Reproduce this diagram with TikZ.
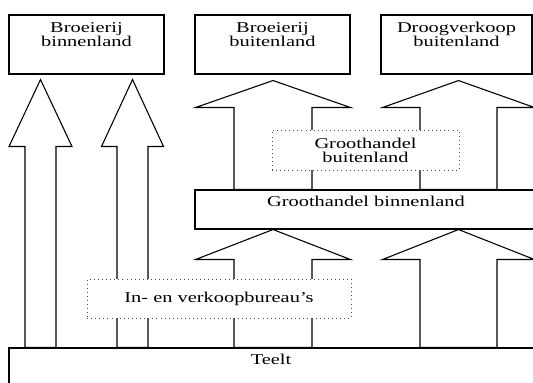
\documentclass[tikz,border=0pt]{standalone}
\usepackage{fontspec}
\setmainfont{Liberation Serif}[FakeStretch=1.36]
\usetikzlibrary{calc}
\def\pxu{0.6pt}
\newcommand{\blockarrow}[7]{%
  \filldraw[arrowbox] let \p1=(#3,0 |- #1.north), \p2=($(#3,0 |- #2.south)+(0,#7)$) in
    ({\x1-#4*\pxu},\y1) -- ({\x1-#4*\pxu},{\y2-#6*\pxu}) -- ({\x1-#5*\pxu},{\y2-#6*\pxu}) -- (\x2,\y2)
    -- ({\x1+#5*\pxu},{\y2-#6*\pxu}) -- ({\x1+#4*\pxu},{\y2-#6*\pxu}) -- ({\x1+#4*\pxu},\y1) -- cycle;}
\begin{document}
\begin{tikzpicture}[x=\pxu,y=-\pxu,line width=0.65pt,
    box/.style={draw,fill=white,inner sep=0pt},
    dotbox/.style={draw=black!70,dotted,line width=0.45pt,fill=white,inner sep=0pt,align=center,font=\fontsize{9}{8.5}\selectfont},
    lbl/.style={inner sep=0pt,align=center,anchor=base,font=\fontsize{9}{8.5}\selectfont},
    arrowbox/.style={draw,fill=white}]
	\useasboundingbox (0,0) rectangle (533,383);
	\clip (0,0) rectangle (533,383);
	\node[box,minimum width=155*\pxu,minimum height=59*\pxu] (bbin) at (86.5,44.5) {};
	\node[box,minimum width=155*\pxu,minimum height=59*\pxu] (bbui) at (272.5,44.5) {};
	\node[box,minimum width=151*\pxu,minimum height=59*\pxu] (droog) at (456.5,44.5) {};
	\node[box,minimum width=342*\pxu,minimum height=39*\pxu] (ghbin) at (366,209.5) {};
	\node[box,minimum width=551*\pxu,minimum height=62*\pxu] (teelt) at (284.5,379) {};
	\node[lbl] (bbintxt) at (86.5,47) {Broeierij\\binnenland};
	\node[lbl] (bbuitxt) at (272.5,47) {Broeierij\\buitenland};
	\node[lbl] (droogtxt) at (456.5,47) {Droogverkoop\\buitenland};
	\node[lbl] (ghbintxt) at (366,207) {Groothandel binnenland};
	\node[lbl] (teelttxt) at (271,365) {Teelt};
	\blockarrow{teelt}{bbin}{40.5}{15.5}{31.5}{67}{5}
	\blockarrow{teelt}{bbin}{132.5}{15.5}{31}{67}{5}
	\blockarrow{ghbin}{bbui}{273}{39}{77.5}{27}{6}
	\blockarrow{ghbin}{droog}{458.5}{38.5}{76}{27}{6}
	\blockarrow{teelt}{ghbin}{273}{39}{77.5}{30}{0}
	\blockarrow{teelt}{ghbin}{458.5}{38.5}{76}{30}{0}
	\node[dotbox,minimum width=187*\pxu,minimum height=40*\pxu] (ghbui) at (365.5,150) {Groothandel\\buitenland};
	\node[dotbox,minimum width=264*\pxu,minimum height=39*\pxu] (inv) at (219,298.5) {In- en verkoopbureau's};
\end{tikzpicture}
\end{document}
